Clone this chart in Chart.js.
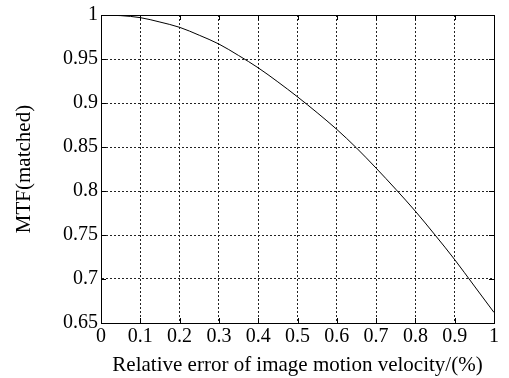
<!DOCTYPE html>
<html>
<head>
<meta charset="utf-8">
<script src="https://cdn.jsdelivr.net/npm/chart.js@4.4.0/dist/chart.umd.min.js"></script>
<style>
html,body{margin:0;padding:0;background:#fff;}
#wrap{position:relative;width:509px;height:378px;}
</style>
</head>
<body>
<div id="wrap"><canvas id="c" width="509" height="378"></canvas></div>
<script>
const relativeError = [0, 0.05, 0.1, 0.15, 0.2, 0.25, 0.3, 0.35, 0.4, 0.45, 0.5, 0.55, 0.6, 0.65, 0.7, 0.75, 0.8, 0.85, 0.9, 0.95, 1.0];
const mtfMatched = [1.000, 0.9993, 0.997, 0.992, 0.986, 0.977, 0.967, 0.954, 0.940, 0.924, 0.907, 0.889, 0.870, 0.849, 0.826, 0.802, 0.777, 0.750, 0.722, 0.692, 0.662];
const xTitle = 'Relative error of image motion velocity/(%)';
const yTitle = 'MTF(matched)';

const FONT = "'Liberation Serif', 'Times New Roman', serif";

const framePlugin = {
  id: 'frame',
  afterDatasetsDraw(chart) {
    const {ctx, chartArea: a, scales} = chart;
    ctx.save();
    ctx.strokeStyle = '#000';
    ctx.lineWidth = 1;
    ctx.setLineDash([]);
    ctx.strokeRect(Math.round(a.left) + 0.5, Math.round(a.top) + 0.5, Math.round(a.right - a.left), Math.round(a.bottom - a.top));
    const tl = 5;
    ctx.beginPath();
    scales.x.ticks.forEach(t => {
      const px = Math.round(scales.x.getPixelForValue(t.value)) + 0.5;
      ctx.moveTo(px, a.bottom); ctx.lineTo(px, a.bottom - tl);
      ctx.moveTo(px, a.top); ctx.lineTo(px, a.top + tl);
    });
    scales.y.ticks.forEach(t => {
      const py = Math.round(scales.y.getPixelForValue(t.value)) + 0.5;
      ctx.moveTo(a.left, py); ctx.lineTo(a.left + tl, py);
      ctx.moveTo(a.right, py); ctx.lineTo(a.right - tl, py);
    });
    ctx.stroke();
    ctx.restore();
  }
};

new Chart(document.getElementById('c'), {
  type: 'line',
  data: {
    datasets: [{
      data: relativeError.map((x, i) => ({x: x, y: mtfMatched[i]})),
      borderColor: '#000',
      borderWidth: 1,
      pointRadius: 0,
      cubicInterpolationMode: 'monotone',
      fill: false
    }]
  },
  options: {
    responsive: false,
    animation: false,
    devicePixelRatio: 1,
    layout: {padding: {left: 12, right: 15, top: 14, bottom: 0}},
    plugins: {legend: {display: false}, tooltip: {enabled: false}},
    scales: {
      x: {
        type: 'linear', min: 0, max: 1,
        afterFit: s => { s.height = 55; },
        ticks: {stepSize: 0.1, color: '#000', padding: 2, maxRotation: 0,
          font: {family: FONT, size: 20},
          callback: v => String(Math.round(v * 10) / 10)},
        grid: {color: '#222', lineWidth: 1, drawTicks: false},
        border: {display: true, color: '#000', dash: [2, 2]},
        title: {display: true, text: xTitle, color: '#000', font: {family: FONT, size: 21}, padding: {top: 1, bottom: 0}}
      },
      y: {
        type: 'linear', min: 0.65, max: 1,
        afterFit: s => { s.width = 89; },
        ticks: {stepSize: 0.05, color: '#000', padding: 3,
          font: {family: FONT, size: 20},
          callback: v => String(Math.round(v * 100) / 100)},
        grid: {color: '#222', lineWidth: 1, drawTicks: false},
        border: {display: true, color: '#000', dash: [2, 2]},
        title: {display: true, text: yTitle, color: '#000', font: {family: FONT, size: 21}, padding: {top: 0, bottom: 0}}
      }
    }
  },
  plugins: [framePlugin]
});
</script>
</body>
</html>
